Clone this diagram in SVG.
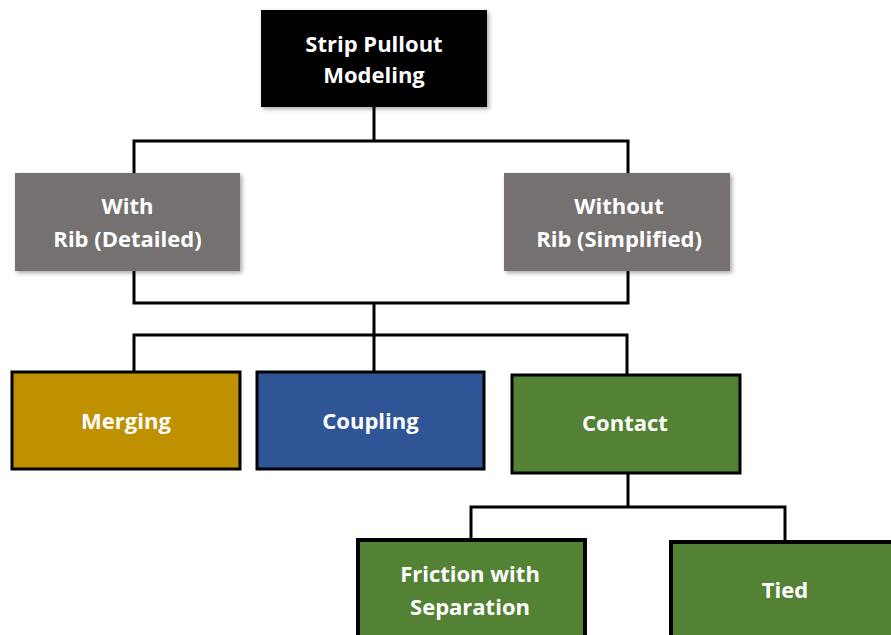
<svg xmlns="http://www.w3.org/2000/svg" width="891" height="635" viewBox="0 0 891 635">
  <defs>
    <filter id="shadow" x="-10%" y="-10%" width="125%" height="130%">
      <feDropShadow dx="2" dy="2" stdDeviation="2" flood-color="#000" flood-opacity="0.35"/>
    </filter>
  </defs>
  <style>
    .lbl { font-family: "Open Sans", "Liberation Sans", sans-serif; font-weight: bold; font-size: 22px; fill: #ffffff; text-anchor: middle; }
    .wire { fill: none; stroke: #000; stroke-width: 3; stroke-linejoin: miter; stroke-linecap: square; }
    .framed { stroke: #000; stroke-width: 3; }
    .framed-thick { stroke: #000; stroke-width: 4; }
  </style>
  <rect width="891" height="635" fill="#ffffff"/>

  <!-- tree connectors -->
  <g id="connectors">
    <path class="wire" d="M374,107 V141 M134,173 V141 H628 V173"/>
    <path class="wire" d="M134,271 V303 H628 V271 M374,303 V335"/>
    <path class="wire" d="M134,372 V335 H627 V375 M374,335 V372"/>
    <path class="wire" d="M628,473 V507 M471,540 V507 H785 V542"/>
  </g>

  <g id="root">
    <rect x="261" y="10" width="226" height="97" fill="#000000" filter="url(#shadow)"/>
    <text class="lbl" x="374" y="52">Strip Pullout</text>
    <text class="lbl" x="374" y="83">Modeling</text>
  </g>

  <g id="with-rib">
    <rect x="15" y="173" width="225" height="98" fill="#767171" filter="url(#shadow)"/>
    <text class="lbl" x="127.5" y="214">With</text>
    <text class="lbl" x="127.5" y="247">Rib (Detailed)</text>
  </g>

  <g id="without-rib">
    <rect x="504" y="173" width="226" height="98" fill="#767171" filter="url(#shadow)"/>
    <text class="lbl" x="619" y="214">Without</text>
    <text class="lbl" x="619" y="247">Rib (Simplified)</text>
  </g>

  <g id="merging">
    <rect class="framed" x="12" y="372" width="228" height="97" fill="#BF9000"/>
    <text class="lbl" x="126" y="429">Merging</text>
  </g>

  <g id="coupling">
    <rect class="framed" x="257" y="372" width="227" height="97" fill="#2F5597"/>
    <text class="lbl" x="370.5" y="429">Coupling</text>
  </g>

  <g id="contact">
    <rect class="framed" x="512" y="375" width="228" height="98" fill="#548235"/>
    <text class="lbl" x="625" y="431">Contact</text>
  </g>

  <g id="friction">
    <rect class="framed-thick" x="358" y="540" width="227" height="110" fill="#548235"/>
    <text class="lbl" x="470" y="582">Friction with</text>
    <text class="lbl" x="470" y="615">Separation</text>
  </g>

  <g id="tied">
    <rect class="framed-thick" x="671" y="542" width="240" height="110" fill="#548235"/>
    <text class="lbl" x="785" y="598">Tied</text>
  </g>
</svg>
